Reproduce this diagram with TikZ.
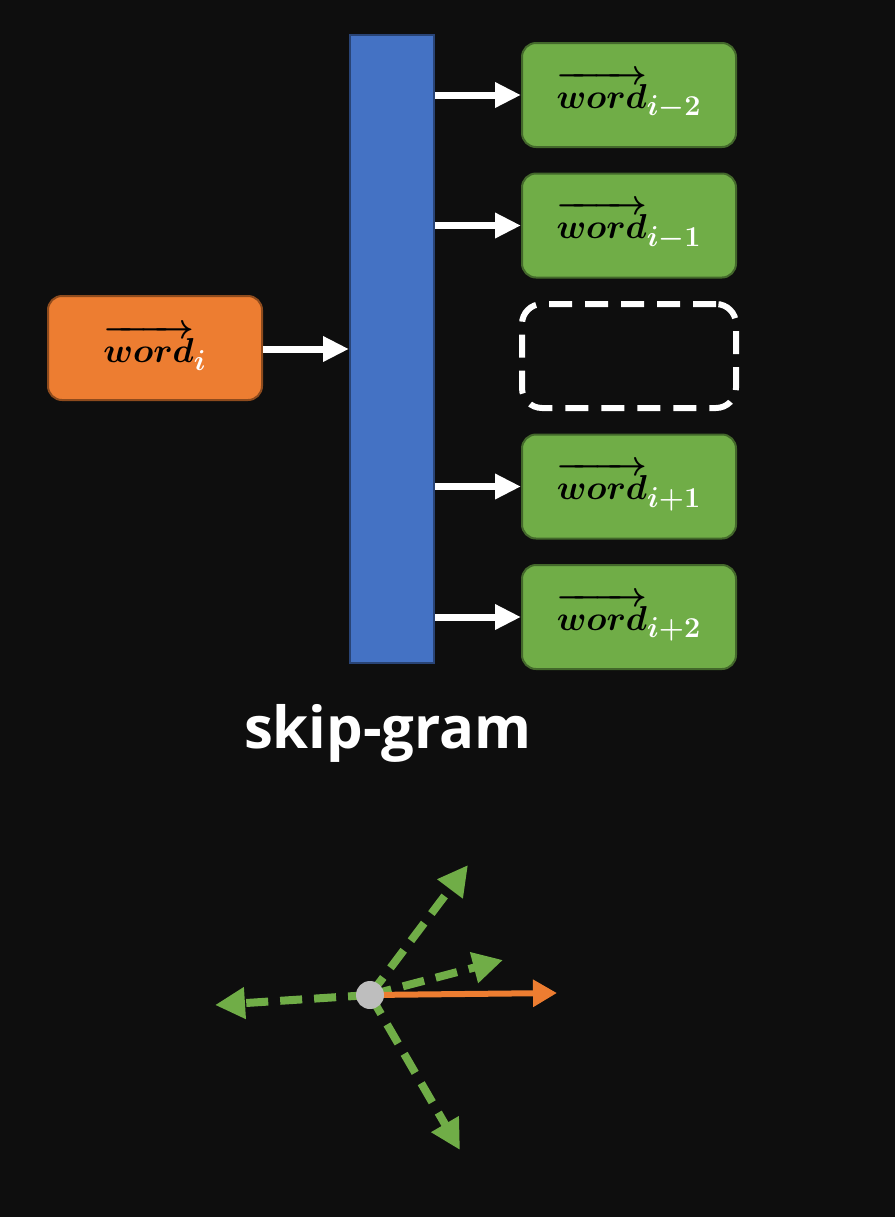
\documentclass[tikz,border=0pt]{standalone}
\usepackage{amsmath}
\usepackage{amssymb}
\usepackage{fontspec}
\setsansfont{Open Sans}
\usepackage{tikz}
\usetikzlibrary{arrows.meta,positioning}

\definecolor{bgblack}{RGB}{14,14,14}
\definecolor{barblue}{RGB}{68,114,196}
\definecolor{boxgreen}{RGB}{112,173,71}
\definecolor{boxorange}{RGB}{237,125,49}
\definecolor{dotgray}{RGB}{190,190,190}

\tikzset{
  wordbox/.style={rectangle, rounded corners=7pt, minimum width=107pt, minimum height=52pt,
    inner sep=0pt, line width=1pt, font=\fontsize{19}{22}\selectfont\boldmath},
  ctxbox/.style={wordbox, fill=boxgreen, draw=boxgreen!60!black},
  inbox/.style={wordbox, fill=boxorange, draw=boxorange!60!black},
  gapbox/.style={wordbox, draw=white, line width=3pt, dash pattern=on 11.5pt off 6.5pt, rounded corners=10pt},
  feed/.style={draw=white, line width=3.5pt, -{Triangle[length=13pt,width=12pt]}},
  guess/.style={draw=boxgreen, line width=4pt, dash pattern=on 11pt off 6pt, -{Triangle[length=15pt,width=15pt]}},
}
\newcommand{\wvec}[1]{$\overrightarrow{word}_{\color{white}#1}$}

\begin{document}
\begin{tikzpicture}[x=0.5pt,y=-0.5pt,node distance=65.25pt,on grid]
	\useasboundingbox[fill=bgblack] (0,0) rectangle (895,1217);
	
	% hidden layer
	\node[rectangle, fill=barblue, draw=barblue!60!black, line width=1pt, minimum width=42pt, minimum height=314pt, inner sep=0pt] (bar) at (392,349) {};
	
	\node[inbox] (wi) at (155,348) {\wvec{i}};
	
	\node[ctxbox] (w1) at (629,95) {\wvec{i-2}};
	\node[ctxbox, below = of w1] (w2) {\wvec{i-1}};
	\node[gapbox, below = of w2] (gap) {};
	\node[ctxbox, below = of gap] (w4) {\wvec{i+1}};
	\node[ctxbox, below = of w4] (w5) {\wvec{i+2}};
	
	\draw[feed] (wi.east |- bar) -- (bar.west);
	\foreach \w in {w1,w2,w4,w5}
		\draw[feed] (bar.east |- \w) -- (\w.west);
	
	\node[font=\sffamily\bfseries\fontsize{29}{34}\selectfont, text=white] (title) at (388,733) {skip-gram};
	
	% vectors
	\coordinate (c) at (370,995);
	\coordinate (t1) at (468,865);
	\coordinate (t2) at (503,960);
	\coordinate (t3) at (215,1005);
	\coordinate (t4) at (460,1150);
	\coordinate (t5) at (557,993);
	\path (c) edge[guess] (t1)
	(c) edge[guess] (t2)
	(c) edge[guess] (t3)
	(c) edge[guess] (t4);
	\draw[boxorange, line width=3pt, -{Triangle[length=12pt,width=13pt]}] (c) -- (t5);
	\node[circle, fill=dotgray, minimum size=14pt, inner sep=0pt] (dot) at (c) {};
\end{tikzpicture}
\end{document}
